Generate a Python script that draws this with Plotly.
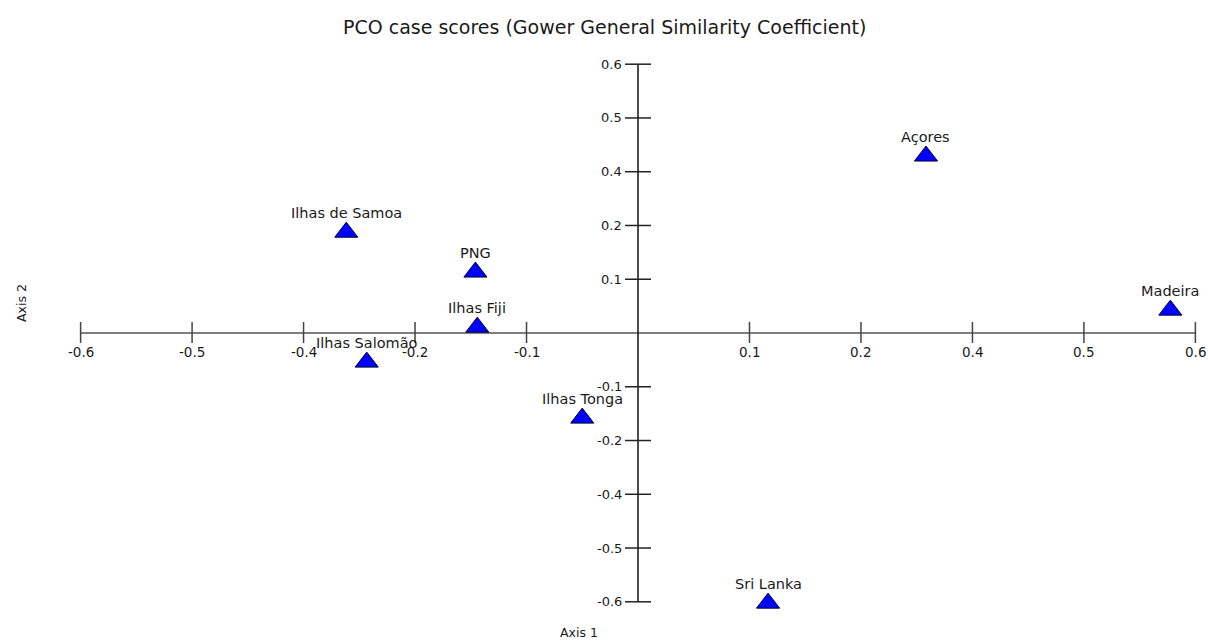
import plotly.graph_objects as go

# ---- data ----
cases = ["Açores", "Madeira", "Ilhas de Samoa", "PNG", "Ilhas Fiji",
         "Ilhas Salomão", "Ilhas Tonga", "Sri Lanka"]
axis1 = [0.310, 0.573, -0.314, -0.175, -0.173, -0.292, -0.060, 0.140]
axis2 = [0.395, 0.051, 0.225, 0.136, 0.013, -0.065, -0.190, -0.603]

x_tick_values = [-0.6, -0.48, -0.36, -0.24, -0.12, 0.12, 0.24, 0.36, 0.48, 0.6]
x_tick_labels = ["-0.6", "-0.5", "-0.4", "-0.2", "-0.1", "0.1", "0.2", "0.4", "0.5", "0.6"]
y_tick_values = [0.6, 0.48, 0.36, 0.24, 0.12, -0.12, -0.24, -0.36, -0.48, -0.6]
y_tick_labels = ["0.6", "0.5", "0.4", "0.2", "0.1", "-0.1", "-0.2", "-0.4", "-0.5", "-0.6"]

title_text = "PCO case scores (Gower General Similarity Coefficient)"
x_title = "Axis 1"
y_title = "Axis 2"

FONT = "DejaVu Sans"
TXT = "#1a1a1a"

fig = go.Figure()
fig.add_trace(go.Scatter(
    x=axis1, y=axis2, mode="markers",
    marker=dict(symbol="triangle-up", size=20, color="#0000FF",
                line=dict(color="#000033", width=1)),
    hoverinfo="text", text=cases, showlegend=False,
))

shapes = []
# axis lines
shapes.append(dict(type="line", xref="x", yref="y", x0=-0.6, x1=0.6, y0=0, y1=0,
                   line=dict(color="#555555", width=1.6), layer="below"))
shapes.append(dict(type="line", xref="x", yref="y", x0=0, x1=0, y0=-0.6, y1=0.6,
                   line=dict(color="#111111", width=1.5), layer="below"))
annotations = []
for v, lab in zip(x_tick_values, x_tick_labels):
    shapes.append(dict(type="line", xref="x", yref="y", ysizemode="pixel", yanchor=0,
                       x0=v, x1=v, y0=-10, y1=11,
                       line=dict(color="#444444", width=1.5), layer="below"))
    annotations.append(dict(x=v, y=0, xref="x", yref="y", text=lab, showarrow=False,
                            yshift=-19, font=dict(family=FONT, size=13.5, color=TXT)))
for v, lab in zip(y_tick_values, y_tick_labels):
    shapes.append(dict(type="line", xref="x", yref="y", xsizemode="pixel", xanchor=0,
                       x0=-13, x1=13, y0=v, y1=v,
                       line=dict(color="#222222", width=1.5), layer="below"))
    annotations.append(dict(x=0, y=v, xref="x", yref="y", text=lab, showarrow=False,
                            xanchor="right", xshift=-14,
                            font=dict(family=FONT, size=13, color=TXT)))

for name, xv, yv in zip(cases, axis1, axis2):
    annotations.append(dict(x=xv, y=yv, xref="x", yref="y", text=name, showarrow=False,
                            yshift=19, font=dict(family=FONT, size=14.5, color=TXT)))

annotations.append(dict(x=0.5, y=1 - 27 / 643, xref="paper", yref="paper",
                        text=title_text, showarrow=False, xanchor="center", yanchor="middle",
                        font=dict(family=FONT, size=19, color=TXT)))
annotations.append(dict(x=579 / 1208, y=1 - 632 / 643, xref="paper", yref="paper",
                        text=x_title, showarrow=False, xanchor="center", yanchor="middle",
                        font=dict(family=FONT, size=12.5, color=TXT)))
annotations.append(dict(x=21 / 1208, y=1 - 303 / 643, xref="paper", yref="paper",
                        text=y_title, showarrow=False, textangle=-90,
                        xanchor="center", yanchor="middle",
                        font=dict(family=FONT, size=12.5, color=TXT)))

# pixel mapping: x=0 at px 638 (929 px/unit), y=0 at py 333 (448 px/unit)
fig.update_layout(
    width=1208, height=643,
    margin=dict(l=0, r=0, t=0, b=0),
    paper_bgcolor="white", plot_bgcolor="white",
    xaxis=dict(range=[-638 / 929, (1208 - 638) / 929], visible=False, fixedrange=True),
    yaxis=dict(range=[-(643 - 333) / 448, 333 / 448], visible=False, fixedrange=True),
    shapes=shapes, annotations=annotations,
)

fig.write_html("out.html", config={"displayModeBar": False},
               post_script="document.body.style.margin='0';document.body.style.overflow='hidden';")
